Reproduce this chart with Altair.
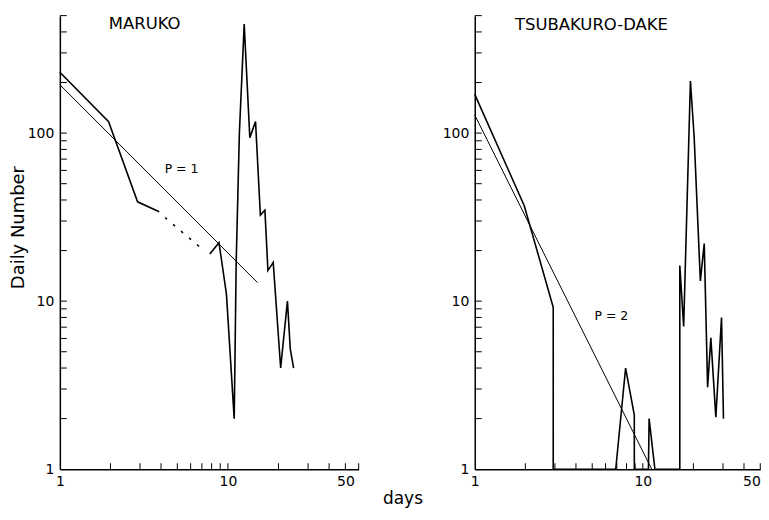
import math
import altair as alt
import pandas as pd

# ---------------- data ----------------
# MARUKO
m_days_a = [1, 1.95, 2.9, 3.9]
m_num_a = [230, 117, 39, 34]
m_days_gap = [4.23, 7.0]
m_num_gap = [31.4, 20.5]
m_days_b = [7.8, 8.85, 9.8, 10.9, 11.2, 11.7, 12.5, 13.5, 14.6, 15.6, 16.6,
            17.3, 18.6, 20.6, 22.6, 23.5, 24.6]
m_num_b = [19.1, 22.3, 11.0, 2.0, 17, 100, 445, 94, 117, 32.5, 34.8,
           15.2, 17.0, 4.0, 10.0, 5.2, 4.0]
m_fit_days = [1, 15]
m_fit_num = [194, 12.9]

# TSUBAKURO-DAKE
t_days = [1, 1.97, 2.93, 2.93, 6.9, 7.9, 8.9, 8.9, 10.8, 10.9, 11.8, 16.6,
          16.6, 17.5, 19.2, 20.2, 22.0, 23.2, 24.3, 25.4, 27.2, 29.4, 30.2]
t_num = [170, 37, 9.2, 1, 1, 4, 2.1, 1, 1, 2.0, 1, 1,
         16.3, 7.06, 204, 95.5, 13.2, 22, 3.08, 6.05, 2.04, 8.0, 2.0]
t_fit_days = [1, 11.3]
t_fit_num = [128, 1]

panel_names = ["MARUKO", "TSUBAKURO-DAKE"]
fit_labels = ["P = 1", "P = 2"]

y_tick_values = [2, 3, 4, 5, 6, 7, 8, 9, 10, 20, 30, 40, 50, 60, 70, 80, 90,
                 100, 200, 300, 400, 500]
y_label_values = [1, 10, 100]
x_tick_values = [2, 3, 4, 5, 6, 7, 8, 9, 10, 20, 30, 40, 50, 60]
x_label_values = [1, 10, 50]

# ---------------- chart ----------------
DEC = 168.5
Y_MAX = 500
H = DEC * math.log10(Y_MAX)
FONT = "DejaVu Sans"
LABEL_SIZE = 14


def frame(days, nums, seg=None):
    df = pd.DataFrame({"days": days, "n": nums})
    df["i"] = range(len(df))
    df["seg"] = seg if seg is not None else 0
    return df


def panel(line_df, fit_df, dash_df, x_max, name, name_xy, plabel, plabel_xy,
          y_title, last_label_right):
    W = DEC * math.log10(x_max)
    xs = alt.Scale(type="log", domain=[1, x_max], nice=False)
    ys = alt.Scale(type="log", domain=[1, Y_MAX], nice=False)
    xt = [v for v in x_tick_values if v <= x_max]

    x_align = "center"
    if last_label_right:
        x_align = {"condition": {"test": "datum.value >= 50", "value": "right"},
                   "value": "center"}
    ax_x = alt.Axis(orient="bottom", values=x_label_values, format="d", ticks=False,
                    grid=False, domain=True, domainColor="black", domainWidth=1.5,
                    title=None, labelPadding=5, labelFont=FONT, labelFontSize=LABEL_SIZE,
                    labelColor="black", labelFlush=False, labelOverlap=False,
                    labelAlign=x_align)
    ax_y = alt.Axis(orient="left", values=y_label_values, format="d", ticks=False,
                    grid=False, domain=True, domainColor="black", domainWidth=1.5,
                    title=y_title, titleFont=FONT, titleFontSize=18,
                    titleFontWeight="normal", titleColor="black", titlePadding=0,
                    titleY=212, labelPadding=6, labelFont=FONT, labelFontSize=LABEL_SIZE,
                    labelColor="black", labelFlush=False, labelOverlap=False)
    X = lambda: alt.X("days:Q", scale=xs, axis=ax_x)
    Y = lambda: alt.Y("n:Q", scale=ys, axis=ax_y)

    data_line = alt.Chart(line_df).mark_line(color="black", strokeWidth=1.6).encode(
        x=X(), y=Y(), detail="seg:N", order="i:Q")
    fit_line = alt.Chart(fit_df).mark_line(color="black", strokeWidth=1.0).encode(
        x=X(), y=Y(), order="i:Q")

    # inward tick marks, placed by the scales
    yt_df = pd.DataFrame({"n": y_tick_values})
    xt_df = pd.DataFrame({"days": xt})
    y_ticks = alt.Chart(yt_df).mark_rule(color="black", strokeWidth=1).encode(
        y=Y(), x=alt.value(0), x2=alt.value(7))
    x_ticks = alt.Chart(xt_df).mark_rule(color="black", strokeWidth=1).encode(
        x=X(), y=alt.value(H), y2=alt.value(H - 6))

    layers = [y_ticks, x_ticks, data_line, fit_line]
    if dash_df is not None:
        layers.append(
            alt.Chart(dash_df).mark_line(color="black", strokeWidth=1.6,
                                         strokeDash=[2.5, 8]).encode(
                x=X(), y=Y(), order="i:Q")
        )
    name_df = pd.DataFrame({"label": [name]})
    layers.append(
        alt.Chart(name_df).mark_text(font=FONT, fontSize=16.5, color="black",
                                     align="center", baseline="middle").encode(
            x=alt.value(name_xy[0]), y=alt.value(name_xy[1]), text="label:N")
    )
    p_df = pd.DataFrame({"label": [plabel]})
    layers.append(
        alt.Chart(p_df).mark_text(font=FONT, fontSize=12.5, color="black",
                                  align="center", baseline="middle").encode(
            x=alt.value(plabel_xy[0]), y=alt.value(plabel_xy[1]), text="label:N")
    )
    return alt.layer(*layers).properties(
        width=W, height=H, view=alt.ViewBackground(stroke=None, strokeWidth=0))


left_line = pd.concat([frame(m_days_a, m_num_a, 0), frame(m_days_b, m_num_b, 1)],
                      ignore_index=True)
left_line["i"] = range(len(left_line))
left = panel(left_line, frame(m_fit_days, m_fit_num), frame(m_days_gap, m_num_gap),
             60, panel_names[0], (85, 8), fit_labels[0], (122, 154), "Daily Number",
             False)
right = panel(frame(t_days, t_num), frame(t_fit_days, t_fit_num), None,
              50, panel_names[1], (117, 9), fit_labels[1], (137, 301), None, True)

chart = alt.hconcat(left, right, spacing=82).properties(
    title=alt.TitleParams("days", orient="bottom", anchor="middle", font=FONT,
                          fontSize=17, fontWeight="normal", color="black",
                          offset=3, dx=18),
    padding={"left": 1, "top": 6, "right": 0, "bottom": 0},
).configure_view(stroke=None, strokeWidth=0).configure(background="white")

chart.save("out.html", embed_options={"renderer": "svg", "actions": False})
